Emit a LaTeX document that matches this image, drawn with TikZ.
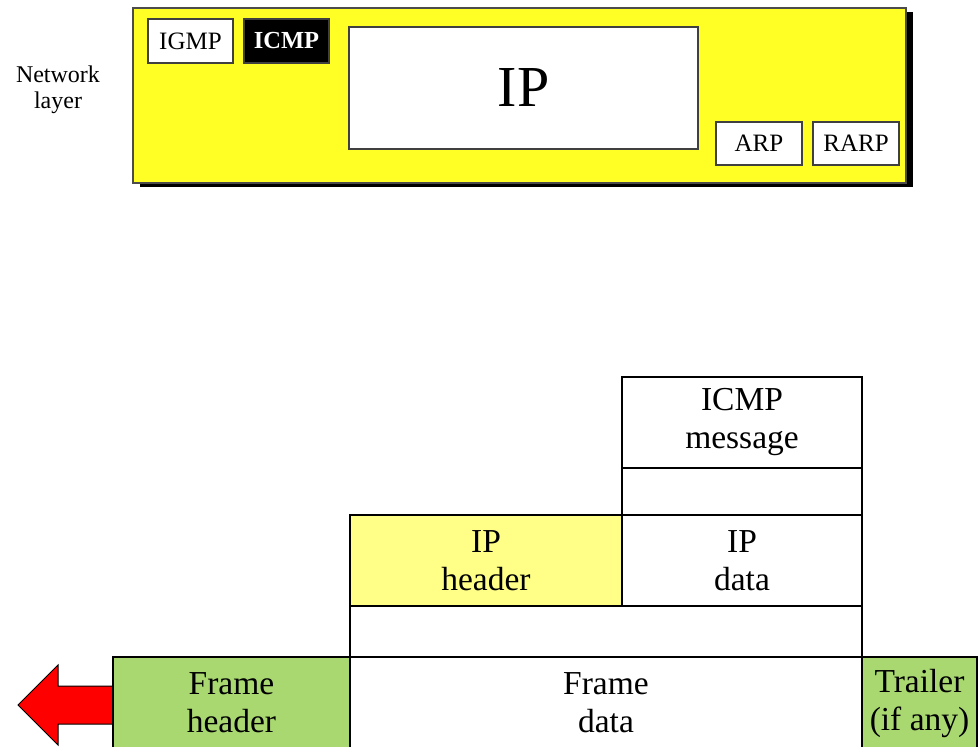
\documentclass[tikz,border=0pt]{standalone}
\usepackage{fontspec}
\setmainfont{Liberation Serif}
\usetikzlibrary{shadows}
\definecolor{layeryellow}{HTML}{FFFF26}
\definecolor{hdryellow}{HTML}{FFFF88}
\definecolor{framegreen}{HTML}{A9D870}
\definecolor{arrowred}{HTML}{FF0000}
\begin{document}
\begin{tikzpicture}[x=1pt,y=-1pt,
  cell/.style={draw=black, line width=1.4pt, inner sep=0pt, outer sep=0pt,
    anchor=north west, align=center},
  smallbox/.style={cell, draw=black!75, line width=1.2pt, fill=white,
    minimum width=85pt, minimum height=44pt, font=\fontsize{25}{28}\selectfont},
  pkt/.style={cell, font=\fontsize{33.5}{38}\selectfont}]
\useasboundingbox (0,0) rectangle (980,747);

% network layer block with its dark shadow
\node[cell, draw=black!70, line width=1.2pt, fill=layeryellow,
  minimum width=773pt, minimum height=175pt,
  drop shadow={shadow xshift=7pt, shadow yshift=-4pt, fill=black, opacity=1}]
  (layer) at (133,8) {};
\node[align=center, font=\fontsize{24}{26}\selectfont] (lbl) at (58,90) {Network\\layer};

\node[smallbox] (igmp) at (148,19) {IGMP};
\node[smallbox, fill=black, text=white, font=\fontsize{24.5}{28}\selectfont\bfseries] (icmp) at (244,19) {ICMP};
\node[smallbox, minimum width=349pt, minimum height=122pt, font=\fontsize{58}{60}\selectfont] (ip) at (349,27) {IP};
\node[smallbox, minimum width=86pt, minimum height=43pt] (arp) at (716,122) {ARP};
\node[smallbox, minimum width=86pt, minimum height=43pt] (rarp) at (813,122) {RARP};

% outgoing direction arrow
\draw[line width=1pt, fill=arrowred] (113,686) -- (58,686) -- (58,665) -- (18,705)
  -- (58,745) -- (58,724) -- (113,724) -- cycle;

% encapsulation of an ICMP message
\node[pkt, minimum width=240pt, minimum height=91pt] (msg) at (622,377) {ICMP\\message};
\node[pkt, minimum width=240pt, minimum height=47pt] (msgpad) at (622,468) {};
\node[pkt, fill=hdryellow, minimum width=272pt, minimum height=91pt] (iphdr) at (350,515) {IP\\header};
\node[pkt, minimum width=240pt, minimum height=91pt] (ipdata) at (622,515) {IP\\data};
\node[pkt, minimum width=512pt, minimum height=51pt] (ippad) at (350,606) {};
\node[pkt, fill=framegreen, minimum width=237pt, minimum height=92pt] (fhdr) at (113,657) {Frame\\header};
\node[pkt, minimum width=512pt, minimum height=92pt] (fdata) at (350,657) {Frame\\data};
\node[pkt, fill=framegreen, minimum width=115pt, minimum height=92pt] (trl) at (862,657) {Trailer\\(if any)};
\end{tikzpicture}
\end{document}
